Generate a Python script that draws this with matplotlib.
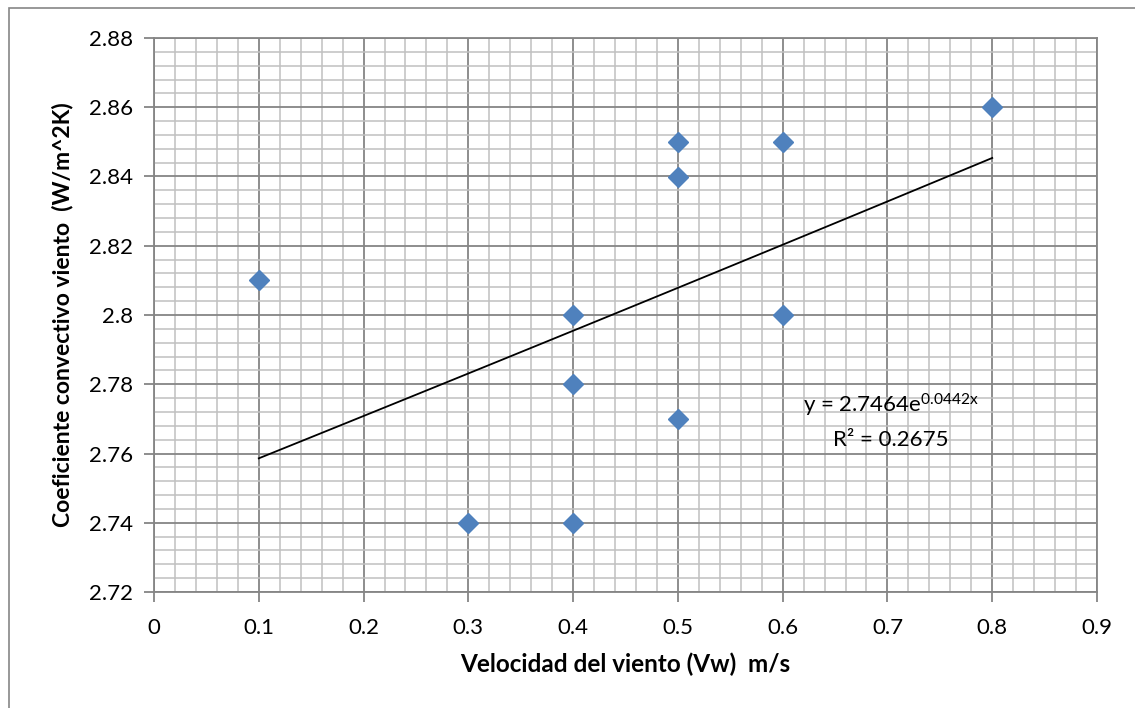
import numpy as np
import matplotlib
matplotlib.use('Agg')
import matplotlib.pyplot as plt
from matplotlib.ticker import MultipleLocator, FuncFormatter
from matplotlib.patches import Rectangle

plt.rcParams['font.family'] = ['Lato', 'DejaVu Sans']
plt.rcParams['mathtext.default'] = 'regular'

# data
vel = [0.1, 0.3, 0.4, 0.4, 0.4, 0.5, 0.5, 0.5, 0.6, 0.6, 0.8]
coef = [2.81, 2.74, 2.80, 2.78, 2.74, 2.85, 2.84, 2.77, 2.85, 2.80, 2.86]
eq_text = 'y = 2.7464e$^{0.0442x}$'
r2_text = 'R² = 0.2675'

fig = plt.figure(figsize=(11.35, 7.08), dpi=100)
# chart-area border (only the left and top edges are inside the image)
fig.patches.append(Rectangle((9 / 1135, -0.05), 1.1, 1 - 8 / 708 + 0.05,
                             transform=fig.transFigure, fill=False,
                             edgecolor='#868686', linewidth=1.2))
ax = fig.add_axes([154 / 1135, 1 - 592 / 708, (1097 - 154) / 1135, (592 - 38) / 708])

ax.set_xlim(0, 0.9)
ax.set_ylim(2.72, 2.88)
ax.xaxis.set_major_locator(MultipleLocator(0.1))
ax.xaxis.set_minor_locator(MultipleLocator(0.02))
ax.yaxis.set_major_locator(MultipleLocator(0.02))
ax.yaxis.set_minor_locator(MultipleLocator(0.004))
fmt = FuncFormatter(lambda v, p: '%g' % round(v, 3))
ax.xaxis.set_major_formatter(fmt)
ax.yaxis.set_major_formatter(fmt)

ax.grid(which='minor', color='#c0c0c0', linewidth=1.1)
ax.grid(which='major', color='#858585', linewidth=1.3)
ax.set_axisbelow(True)
for s in ax.spines.values():
    s.set_color('#858585')
    s.set_linewidth(1.3)

ax.tick_params(which='major', length=7, color='#858585', width=1.3, labelsize=16)
ax.tick_params(axis='y', which='major', pad=8)
ax.tick_params(axis='x', which='major', pad=12)
ax.tick_params(which='minor', length=0)

# exponential trendline (least squares on ln y, as Excel does)
b, lna = np.polyfit(vel, np.log(coef), 1)
xt = np.linspace(min(vel), max(vel), 50)
ax.plot(xt, np.exp(lna) * np.exp(b * xt), color='black', linewidth=1.3, zorder=3)

ax.plot(vel, coef, linestyle='none', marker='D', markersize=10,
        color='#4F81BD', markeredgecolor='#4F81BD', zorder=4)

ax.text(0.619, 2.7740, eq_text, fontsize=16, ha='left', va='center')
ax.text(0.648, 2.7640, r2_text, fontsize=16, ha='left', va='center')

ax.set_xlabel('Velocidad del viento (Vw)  m/s', fontsize=17.5, fontweight='bold', labelpad=10)
ax.set_ylabel('Coeficiente convectivo viento  (W/m^2K)', fontsize=16.5, fontweight='bold', labelpad=11)

fig.savefig('out.png', dpi=100)
